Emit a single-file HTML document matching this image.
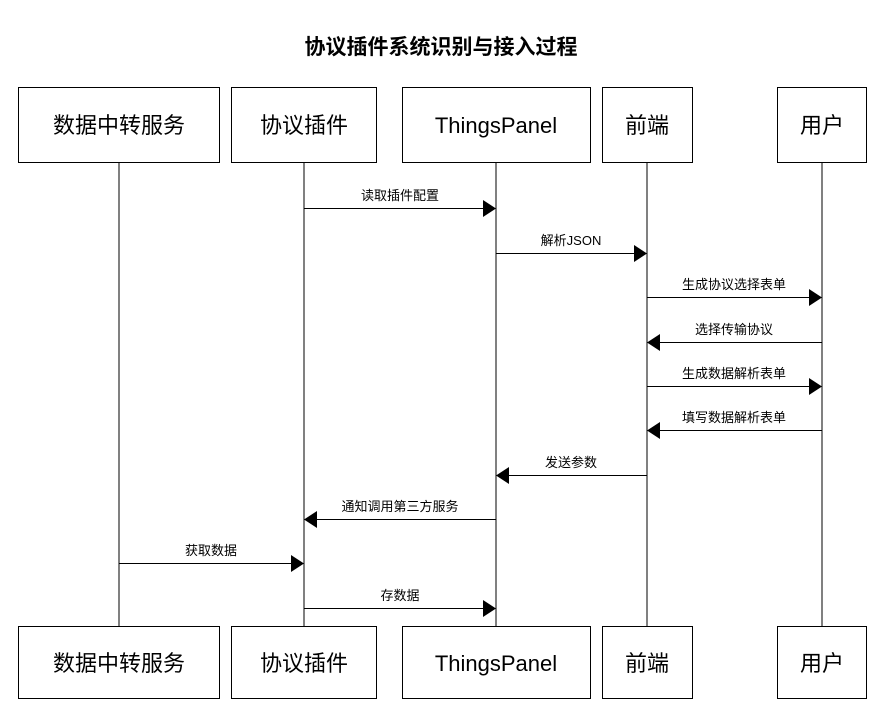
<!DOCTYPE html>
<html><head><meta charset="utf-8"><style>
html,body{margin:0;padding:0;background:#fff;}
svg{display:block;}
text{font-family:"Liberation Sans","Noto Sans CJK SC",sans-serif;fill:#000;}
</style></head><body>
<svg width="882" height="714" viewBox="0 0 882 714" xmlns="http://www.w3.org/2000/svg">
<text x="441" y="54" text-anchor="middle" font-size="21" font-weight="bold">协议插件系统识别与接入过程</text>
<g stroke="#000" stroke-width="1" fill="#fff">
<line x1="119" y1="163" x2="119" y2="626"/>
<line x1="304" y1="163" x2="304" y2="626"/>
<line x1="496" y1="163" x2="496" y2="626"/>
<line x1="647" y1="163" x2="647" y2="626"/>
<line x1="822" y1="163" x2="822" y2="626"/>
<rect x="18.5" y="87.5" width="201" height="75"/>
<rect x="231.5" y="87.5" width="145" height="75"/>
<rect x="402.5" y="87.5" width="188" height="75"/>
<rect x="602.5" y="87.5" width="90" height="75"/>
<rect x="777.5" y="87.5" width="89" height="75"/>
<rect x="18.5" y="626.5" width="201" height="72"/>
<rect x="231.5" y="626.5" width="145" height="72"/>
<rect x="402.5" y="626.5" width="188" height="72"/>
<rect x="602.5" y="626.5" width="90" height="72"/>
<rect x="777.5" y="626.5" width="89" height="72"/>
</g>
<g font-size="22" text-anchor="middle">
<text x="119" y="133">数据中转服务</text>
<text x="304" y="133">协议插件</text>
<text x="496" y="133">ThingsPanel</text>
<text x="647" y="133">前端</text>
<text x="822" y="133">用户</text>
<text x="119" y="671">数据中转服务</text>
<text x="304" y="671">协议插件</text>
<text x="496" y="671">ThingsPanel</text>
<text x="647" y="671">前端</text>
<text x="822" y="671">用户</text>
</g>
<g stroke="#000" stroke-width="1">
<line x1="304" y1="208.5" x2="486" y2="208.5"/>
<line x1="496" y1="253.5" x2="637" y2="253.5"/>
<line x1="647" y1="297.5" x2="812" y2="297.5"/>
<line x1="822" y1="342.5" x2="657" y2="342.5"/>
<line x1="647" y1="386.5" x2="812" y2="386.5"/>
<line x1="822" y1="430.5" x2="657" y2="430.5"/>
<line x1="647" y1="475.5" x2="506" y2="475.5"/>
<line x1="496" y1="519.5" x2="314" y2="519.5"/>
<line x1="119" y1="563.5" x2="294" y2="563.5"/>
<line x1="304" y1="608.5" x2="486" y2="608.5"/>
</g>
<g fill="#000">
<polygon points="483,200 496,208.5 483,217"/>
<polygon points="634,245 647,253.5 634,262"/>
<polygon points="809,289 822,297.5 809,306"/>
<polygon points="660,334 647,342.5 660,351"/>
<polygon points="809,378 822,386.5 809,395"/>
<polygon points="660,422 647,430.5 660,439"/>
<polygon points="509,467 496,475.5 509,484"/>
<polygon points="317,511 304,519.5 317,528"/>
<polygon points="291,555 304,563.5 291,572"/>
<polygon points="483,600 496,608.5 483,617"/>
</g>
<g font-size="13" text-anchor="middle">
<text x="400" y="200">读取插件配置</text>
<text x="571" y="245">解析JSON</text>
<text x="734" y="289">生成协议选择表单</text>
<text x="734" y="334">选择传输协议</text>
<text x="734" y="378">生成数据解析表单</text>
<text x="734" y="422">填写数据解析表单</text>
<text x="571" y="467">发送参数</text>
<text x="400" y="511">通知调用第三方服务</text>
<text x="211" y="555">获取数据</text>
<text x="400" y="600">存数据</text>
</g>
</svg>
</body></html>
